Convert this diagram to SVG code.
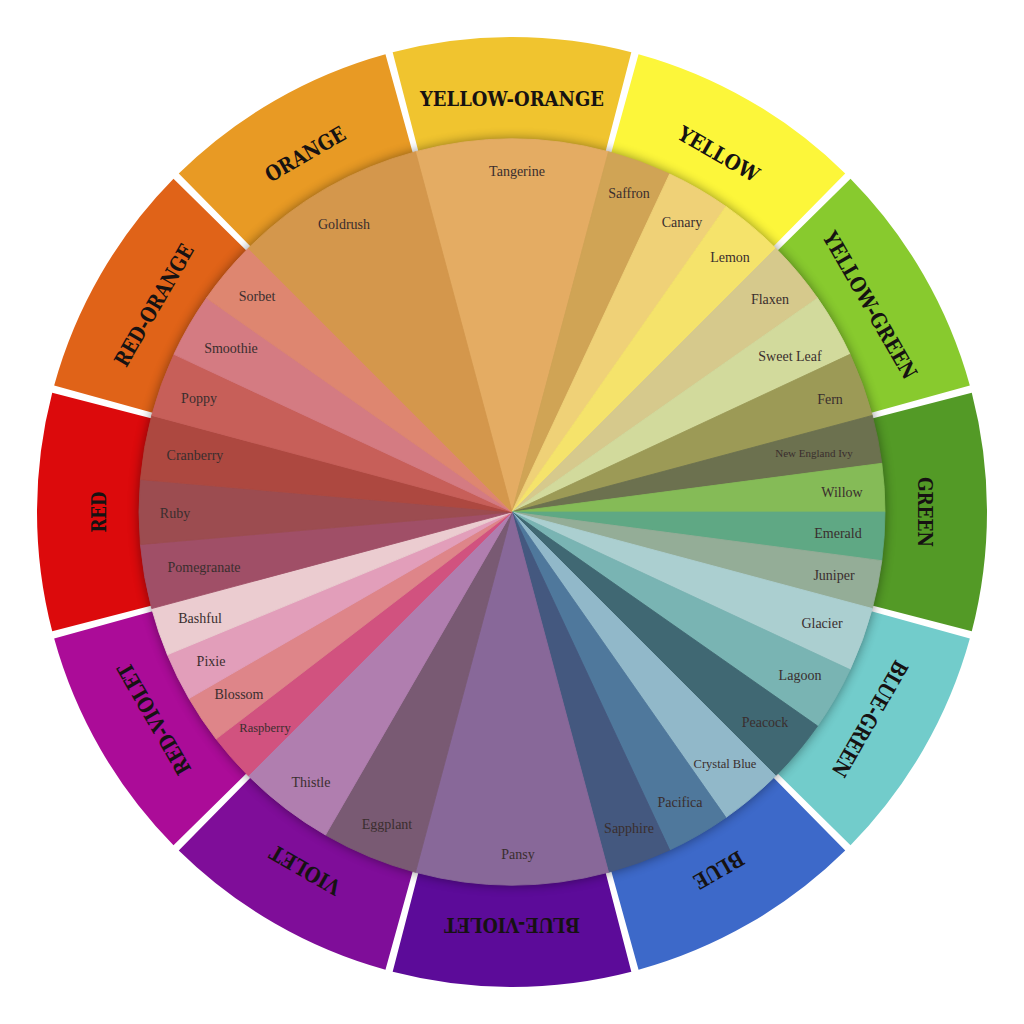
<svg xmlns="http://www.w3.org/2000/svg" width="1024" height="1024" viewBox="0 0 1024 1024">
<defs>
<path id="seg" d="M-119.33,-459.77 A475,475 0 0,1 119.33,-459.77 L89.18,-343.62 A355,355 0 0,0 -89.18,-343.62 Z"/>
<path id="w30" d="M0,0 L0,-373 A373,373 0 0,1 186.5,-323.03 Z"/>
<path id="w15" d="M0,0 L0,-373 A373,373 0 0,1 96.54,-360.29 Z"/>
<path id="w10" d="M0,0 L0,-373 A373,373 0 0,1 64.77,-367.33 Z"/>
<path id="w75" d="M0,0 L0,-373 A373,373 0 0,1 48.69,-369.81 Z"/>
<filter id="sh" x="-20%" y="-20%" width="140%" height="140%"><feGaussianBlur stdDeviation="6"/></filter>
</defs>
<style>
.ring text{font-family:"DejaVu Serif","Liberation Serif",serif;font-weight:bold;font-size:21px;fill:#161212;text-anchor:middle}
.w{stroke-width:.8;stroke-linejoin:round}
.lbl{font-family:"Liberation Serif","DejaVu Serif",serif;font-size:14px;fill:#3a2e2e;text-anchor:middle}
.sm{font-size:12.5px}
.xs{font-size:11px}
</style>
<rect width="1024" height="1024" fill="#ffffff"/>
<g id="ring" class="ring" transform="translate(512,512)">
<g id="seg-yellow-orange" transform="rotate(0)"><use href="#seg" fill="#F0C42F"/><text x="0" y="-406" textLength="184" lengthAdjust="spacingAndGlyphs">YELLOW-ORANGE</text></g>
<g id="seg-yellow" transform="rotate(30)"><use href="#seg" fill="#FCF63A"/><text x="0" y="-406" textLength="90" lengthAdjust="spacingAndGlyphs">YELLOW</text></g>
<g id="seg-yellow-green" transform="rotate(60)"><use href="#seg" fill="#88CA2E"/><text x="0" y="-406" textLength="166" lengthAdjust="spacingAndGlyphs">YELLOW-GREEN</text></g>
<g id="seg-green" transform="rotate(90)"><use href="#seg" fill="#539A26"/><text x="0" y="-406" textLength="70" lengthAdjust="spacingAndGlyphs">GREEN</text></g>
<g id="seg-blue-green" transform="rotate(120)"><use href="#seg" fill="#72CCCB"/><text x="0" y="-406" textLength="130" lengthAdjust="spacingAndGlyphs">BLUE-GREEN</text></g>
<g id="seg-blue" transform="rotate(150)"><use href="#seg" fill="#3D69C9"/><text x="0" y="-406" textLength="54" lengthAdjust="spacingAndGlyphs">BLUE</text></g>
<g id="seg-blue-violet" transform="rotate(180)"><use href="#seg" fill="#5C0B99"/><text x="0" y="-406" textLength="136" lengthAdjust="spacingAndGlyphs">BLUE-VIOLET</text></g>
<g id="seg-violet" transform="rotate(210)"><use href="#seg" fill="#7F0D99"/><text x="0" y="-406" textLength="78" lengthAdjust="spacingAndGlyphs">VIOLET</text></g>
<g id="seg-red-violet" transform="rotate(240)"><use href="#seg" fill="#AB0C98"/><text x="0" y="-406" textLength="125" lengthAdjust="spacingAndGlyphs">RED-VIOLET</text></g>
<g id="seg-red" transform="rotate(270)"><use href="#seg" fill="#DC0A0C"/><text x="0" y="-406" textLength="41" lengthAdjust="spacingAndGlyphs">RED</text></g>
<g id="seg-red-orange" transform="rotate(300)"><use href="#seg" fill="#E06318"/><text x="0" y="-406" textLength="137" lengthAdjust="spacingAndGlyphs">RED-ORANGE</text></g>
<g id="seg-orange" transform="rotate(330)"><use href="#seg" fill="#E89A24"/><text x="0" y="-406" textLength="89" lengthAdjust="spacingAndGlyphs">ORANGE</text></g>
</g>
<circle id="disk-shadow" cx="512" cy="512" r="373" fill="#000" opacity=".45" filter="url(#sh)"/>
<g id="wedges">
<g id="tangerine"><use href="#w30" class="w" transform="translate(512,512) rotate(-15)" style="fill:#E4AC63;stroke:#E4AC63"/><text class="lbl" x="517" y="176">Tangerine</text></g>
<g id="saffron"><use href="#w10" class="w" transform="translate(512,512) rotate(15)" style="fill:#D0A455;stroke:#D0A455"/><text class="lbl" x="629" y="198">Saffron</text></g>
<g id="canary"><use href="#w10" class="w" transform="translate(512,512) rotate(25)" style="fill:#EFD177;stroke:#EFD177"/><text class="lbl" x="682" y="227">Canary</text></g>
<g id="lemon"><use href="#w10" class="w" transform="translate(512,512) rotate(35)" style="fill:#F5E36B;stroke:#F5E36B"/><text class="lbl" x="730" y="262">Lemon</text></g>
<g id="flaxen"><use href="#w10" class="w" transform="translate(512,512) rotate(45)" style="fill:#D6C98C;stroke:#D6C98C"/><text class="lbl" x="770" y="304">Flaxen</text></g>
<g id="sweet-leaf"><use href="#w10" class="w" transform="translate(512,512) rotate(55)" style="fill:#D2DA9C;stroke:#D2DA9C"/><text class="lbl" x="790" y="361">Sweet Leaf</text></g>
<g id="fern"><use href="#w10" class="w" transform="translate(512,512) rotate(65)" style="fill:#9C9A56;stroke:#9C9A56"/><text class="lbl" x="830" y="404">Fern</text></g>
<g id="new-england-ivy"><use href="#w75" class="w" transform="translate(512,512) rotate(75)" style="fill:#6C714F;stroke:#6C714F"/><text class="lbl xs" x="814" y="457">New England Ivy</text></g>
<g id="willow"><use href="#w75" class="w" transform="translate(512,512) rotate(82.5)" style="fill:#85BB57;stroke:#85BB57"/><text class="lbl" x="842" y="497">Willow</text></g>
<g id="emerald"><use href="#w75" class="w" transform="translate(512,512) rotate(90)" style="fill:#5FA884;stroke:#5FA884"/><text class="lbl" x="838" y="538">Emerald</text></g>
<g id="juniper"><use href="#w75" class="w" transform="translate(512,512) rotate(97.5)" style="fill:#94AD97;stroke:#94AD97"/><text class="lbl" x="834" y="580">Juniper</text></g>
<g id="glacier"><use href="#w10" class="w" transform="translate(512,512) rotate(105)" style="fill:#ABCFD0;stroke:#ABCFD0"/><text class="lbl" x="822" y="628">Glacier</text></g>
<g id="lagoon"><use href="#w10" class="w" transform="translate(512,512) rotate(115)" style="fill:#79B4B3;stroke:#79B4B3"/><text class="lbl" x="800" y="680">Lagoon</text></g>
<g id="peacock"><use href="#w10" class="w" transform="translate(512,512) rotate(125)" style="fill:#406873;stroke:#406873"/><text class="lbl" x="765" y="727">Peacock</text></g>
<g id="crystal-blue"><use href="#w10" class="w" transform="translate(512,512) rotate(135)" style="fill:#91B8C9;stroke:#91B8C9"/><text class="lbl sm" x="725" y="768">Crystal Blue</text></g>
<g id="pacifica"><use href="#w10" class="w" transform="translate(512,512) rotate(145)" style="fill:#4F789C;stroke:#4F789C"/><text class="lbl" x="680" y="807">Pacifica</text></g>
<g id="sapphire"><use href="#w10" class="w" transform="translate(512,512) rotate(155)" style="fill:#44587F;stroke:#44587F"/><text class="lbl" x="629" y="833">Sapphire</text></g>
<g id="pansy"><use href="#w30" class="w" transform="translate(512,512) rotate(165)" style="fill:#886899;stroke:#886899"/><text class="lbl" x="518" y="859">Pansy</text></g>
<g id="eggplant"><use href="#w15" class="w" transform="translate(512,512) rotate(195)" style="fill:#795A73;stroke:#795A73"/><text class="lbl" x="387" y="829">Eggplant</text></g>
<g id="thistle"><use href="#w15" class="w" transform="translate(512,512) rotate(210)" style="fill:#B07EAF;stroke:#B07EAF"/><text class="lbl" x="311" y="787">Thistle</text></g>
<g id="raspberry"><use href="#w75" class="w" transform="translate(512,512) rotate(225)" style="fill:#D1527F;stroke:#D1527F"/><text class="lbl sm" x="265" y="732">Raspberry</text></g>
<g id="blossom"><use href="#w75" class="w" transform="translate(512,512) rotate(232.5)" style="fill:#DE8589;stroke:#DE8589"/><text class="lbl" x="239" y="699">Blossom</text></g>
<g id="pixie"><use href="#w75" class="w" transform="translate(512,512) rotate(240)" style="fill:#E29EBA;stroke:#E29EBA"/><text class="lbl" x="211" y="666">Pixie</text></g>
<g id="bashful"><use href="#w75" class="w" transform="translate(512,512) rotate(247.5)" style="fill:#EBCCD0;stroke:#EBCCD0"/><text class="lbl" x="200" y="623">Bashful</text></g>
<g id="pomegranate"><use href="#w10" class="w" transform="translate(512,512) rotate(255)" style="fill:#A04F67;stroke:#A04F67"/><text class="lbl" x="204" y="572">Pomegranate</text></g>
<g id="ruby"><use href="#w10" class="w" transform="translate(512,512) rotate(265)" style="fill:#9C4C50;stroke:#9C4C50"/><text class="lbl" x="175" y="518">Ruby</text></g>
<g id="cranberry"><use href="#w10" class="w" transform="translate(512,512) rotate(275)" style="fill:#AD4840;stroke:#AD4840"/><text class="lbl" x="195" y="460">Cranberry</text></g>
<g id="poppy"><use href="#w10" class="w" transform="translate(512,512) rotate(285)" style="fill:#C75F59;stroke:#C75F59"/><text class="lbl" x="199" y="403">Poppy</text></g>
<g id="smoothie"><use href="#w10" class="w" transform="translate(512,512) rotate(295)" style="fill:#D47B82;stroke:#D47B82"/><text class="lbl" x="231" y="353">Smoothie</text></g>
<g id="sorbet"><use href="#w10" class="w" transform="translate(512,512) rotate(305)" style="fill:#DE8670;stroke:#DE8670"/><text class="lbl" x="257" y="301">Sorbet</text></g>
<g id="goldrush"><use href="#w30" class="w" transform="translate(512,512) rotate(315)" style="fill:#D4974C;stroke:#D4974C"/><text class="lbl" x="344" y="229">Goldrush</text></g>
</g>
</svg>
